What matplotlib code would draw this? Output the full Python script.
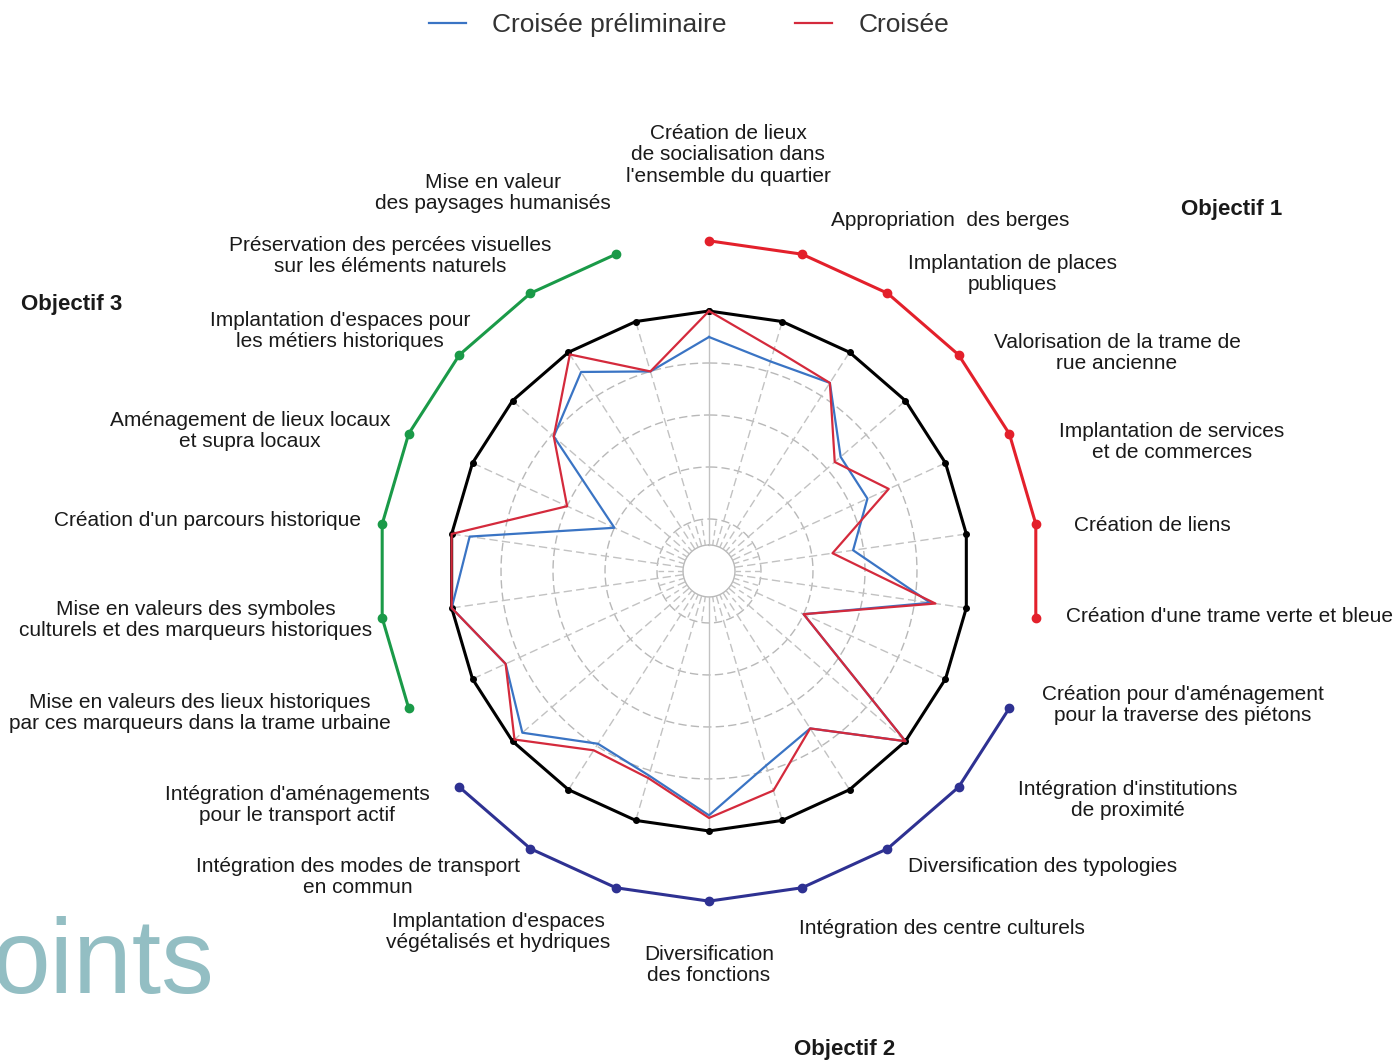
import numpy as np
import matplotlib.pyplot as plt

# axes of the radar, clockwise from the top
categories = [
    "Création de lieux\nde socialisation dans\nl'ensemble du quartier",
    "Appropriation  des berges",
    "Implantation de places\npubliques",
    "Valorisation de la trame de\nrue ancienne",
    "Implantation de services\net de commerces",
    "Création de liens",
    "Création d'une trame verte et bleue",
    "Création pour d'aménagement\npour la traverse des piétons",
    "Intégration d'institutions\nde proximité",
    "Diversification des typologies",
    "Intégration des centre culturels",
    "Diversification\ndes fonctions",
    "Implantation d'espaces\nvégétalisés et hydriques",
    "Intégration des modes de transport\nen commun",
    "Intégration d'aménagements\npour le transport actif",
    "Mise en valeurs des lieux historiques\npar ces marqueurs dans la trame urbaine",
    "Mise en valeurs des symboles\nculturels et des marqueurs historiques",
    "Création d'un parcours historique",
    "Aménagement de lieux locaux\net supra locaux",
    "Implantation d'espaces pour\nles métiers historiques",
    "Préservation des percées visuelles\nsur les éléments naturels",
    "Mise en valeur\ndes paysages humanisés",
]
objectif = [1] * 7 + [2] * 8 + [3] * 7

croisee_prelim = [4.5, 4.2, 4.3, 3.35, 3.35, 2.8, 4.3, 2.0, 5.0, 3.6, 3.9,
                  4.7, 4.1, 3.95, 4.75, 4.3, 5.0, 4.65, 2.0, 3.95, 4.55, 4.0]
croisee = [5.0, 4.45, 4.3, 3.2, 3.8, 2.4, 4.4, 2.0, 5.0, 3.6, 4.4,
           4.75, 4.15, 4.1, 4.95, 4.3, 5.0, 5.0, 3.0, 3.95, 4.95, 4.0]

max_score = 5
rings = [0.5, 1, 2, 3, 4]
objectif_names = ["Objectif 1", "Objectif 2", "Objectif 3"]

# text placement (pixels in the 1398x1061 picture)
W, H = 1398, 1061
label_pos = [(728, 155), (950, 220), (1012, 274), (1117, 353), (1172, 442),
             (1152, 525), (1230, 616), (1183, 705), (1128, 800), (1043, 866),
             (942, 929), (709, 965), (498, 932), (358, 877), (297, 805),
             (200, 713), (196, 620), (208, 520), (250, 431), (340, 331),
             (390, 256), (493, 193)]
objectif_pos = [(1232, 209), (845, 1050), (72, 304)]
arc_colors = ['#e3202b', '#2e3192', '#1a9a48']

plt.rcParams['font.family'] = ['Liberation Sans', 'DejaVu Sans']

n = len(categories)
theta = np.arange(n) * 2 * np.pi / n
theta_c = np.append(theta, theta[0])

fig = plt.figure(figsize=(W / 100, H / 100), dpi=100)
ax = fig.add_axes([0.2654, 0.1433, 0.4835, 0.6371], projection='polar')
ax.set_theta_zero_location('N')
ax.set_theta_direction(-1)
ax.set_ylim(0, 6.5)
ax.axis('off')

# grid
circ = np.linspace(0, 2 * np.pi, 400)
for r in rings:
    ls = '-' if r == rings[0] else (0, (6, 3))
    ax.plot(circ, np.full_like(circ, r), color='#b8b8b8', lw=1, ls=ls, zorder=1)
for i, t in enumerate(theta):
    ls = '-' if i in (0, n // 2) else (0, (6, 3))
    ax.plot([t, t], [rings[0], max_score], color='#c2c2c2', lw=1, ls=ls, zorder=1)
for t in theta + np.pi / n:
    ax.plot([t, t], [rings[0], rings[1]], color='#c2c2c2', lw=1, ls=(0, (4, 3)), zorder=1)

# outer polygon
ax.plot(theta_c, [max_score] * (n + 1), color='black', lw=2.2, marker='o', ms=4, zorder=3)

# series
l1, = ax.plot(theta_c, croisee_prelim + croisee_prelim[:1], color='#3a74c4', lw=1.6,
              zorder=4, label='Croisée préliminaire')
l2, = ax.plot(theta_c, croisee + croisee[:1], color='#d42a3c', lw=1.6,
              zorder=5, label='Croisée')

# objective arcs
for k in range(3):
    idx = [i for i in range(n) if objectif[i] == k + 1]
    ax.plot(theta[idx], [6.35] * len(idx), color=arc_colors[k], lw=2.2,
            marker='o', ms=6, clip_on=False)

for lab, (x, y) in zip(categories, label_pos):
    fig.text(x / W, 1 - y / H, lab, ha='center', va='center', fontsize=15,
             linespacing=1.15, color='#1a1a1a')
for name, (x, y) in zip(objectif_names, objectif_pos):
    fig.text(x / W, 1 - y / H, name, ha='center', va='center', fontsize=16,
             fontweight='bold', color='#1a1a1a')

fig.legend(handles=[l1, l2], loc='center', bbox_to_anchor=(0.493, 0.976),
           ncol=2, frameon=False, fontsize=19, handlelength=1.4,
           handletextpad=1.0, columnspacing=2.6, labelcolor='#333333')

fig.text(215 / W, 1 - 993 / H, 'oints', ha='right', va='baseline',
         fontsize=76, color='#93bec3')

fig.savefig('out.png', dpi=100)
